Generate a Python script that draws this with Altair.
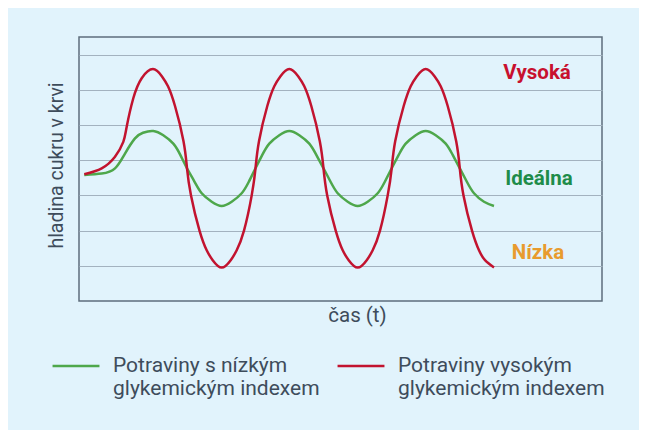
import altair as alt
import pandas as pd

# time (arbitrary units) and blood-sugar level
t_high = [5.3, 22.7, 36, 44.3, 47.7, 54.3, 62.7, 74,
          83, 89, 96, 104.5, 108, 112, 120.5, 127.7, 133.7, 142.7,
          151.7, 157.7, 165, 172.7, 176.5, 180, 188.3, 195.3, 201.3, 210.3,
          219.3, 225.3, 232.3, 240.8, 244.5, 248.2, 256.7, 263.7, 269.7, 278.7,
          287.7, 293.7, 301, 308.7, 312.7, 316.2, 324.7, 331.7, 337.7, 346.7,
          355.7, 361.7, 368.7, 377.2, 380.8, 384.5, 393, 400, 406, 415]
v_high = [3.60, 3.77, 4.10, 4.52, 4.95, 5.76, 6.33, 6.59,
          6.38, 6.10, 5.54, 4.54, 3.77, 3.00, 2.00, 1.44, 1.16, 0.95,
          1.16, 1.44, 2.00, 3.00, 3.77, 4.54, 5.54, 6.10, 6.38, 6.59,
          6.38, 6.10, 5.54, 4.54, 3.77, 3.00, 2.00, 1.44, 1.16, 0.95,
          1.16, 1.44, 2.00, 3.00, 3.77, 4.54, 5.54, 6.10, 6.38, 6.59,
          6.38, 6.10, 5.54, 4.54, 3.77, 3.00, 2.00, 1.44, 1.16, 0.95]

t_low = [5.3, 22.7, 36, 46, 56, 64, 74.3,
         84.3, 94.3, 101.3, 108, 115.7, 122.7, 132.7, 142.7,
         152.7, 162.7, 169.7, 176.5, 183.3, 190.3, 200.3, 210.3,
         220.3, 230.3, 237.3, 244.5, 251.7, 258.7, 268.7, 278.7,
         288.7, 298.7, 305.7, 312.7, 319.7, 326.7, 336.7, 346.7,
         356.7, 366.7, 373.7, 380.8, 388, 395, 405, 415]
v_low = [3.58, 3.62, 3.77, 4.19, 4.62, 4.78, 4.83,
         4.71, 4.47, 4.15, 3.77, 3.38, 3.06, 2.82, 2.70,
         2.82, 3.06, 3.38, 3.77, 4.15, 4.47, 4.71, 4.83,
         4.71, 4.47, 4.15, 3.77, 3.38, 3.06, 2.82, 2.70,
         2.82, 3.06, 3.38, 3.77, 4.15, 4.47, 4.71, 4.83,
         4.71, 4.47, 4.15, 3.77, 3.38, 3.06, 2.82, 2.70]

series_names = ["Potraviny s nízkým|glykemickým indexem",
                "Potraviny vysokým|glykemickým indexem"]
series_colors = ["#4EA74B", "#C2132F"]

zone_labels = ["Vysoká", "Ideálna", "Nízka"]
zone_t = [458, 460, 459]
zone_v = [6.47, 3.46, 1.36]
zone_colors = ["#C8102E", "#1E8C4A", "#E89B2E"]

grid_values = [1, 2, 3, 4, 5, 6, 7]

df = pd.concat([
    pd.DataFrame({"t": t_low, "v": v_low, "s": series_names[0], "o": range(len(t_low))}),
    pd.DataFrame({"t": t_high, "v": v_high, "s": series_names[1], "o": range(len(t_high))}),
])
zdf = pd.DataFrame({"label": zone_labels, "t": zone_t, "v": zone_v, "c": zone_colors})

FONT = "Roboto"
TXT = "#3E4C5B"

xscale = alt.Scale(domain=[0, 523], nice=False, zero=False)
yscale = alt.Scale(domain=[0, 7.5], nice=False, zero=False)

lines = alt.Chart(df).mark_line(interpolate="natural", strokeWidth=2.5).encode(
    x=alt.X("t:Q", scale=xscale,
            axis=alt.Axis(title="čas (t)", labels=False, ticks=False, domain=False, grid=False,
                          titleFontSize=20.5, titleFont=FONT, titleFontWeight="normal",
                          titleColor=TXT, titlePadding=4, titleX=278)),
    y=alt.Y("v:Q", scale=yscale,
            axis=alt.Axis(title="hladina cukru v krvi", values=grid_values, labels=False, ticks=False,
                          domain=False, grid=True, gridColor="#A3B2BF", gridWidth=1,
                          titleFontSize=19.5, titleFont=FONT, titleFontWeight="normal",
                          titleColor=TXT, titlePadding=13, titleY=128)),
    color=alt.Color("s:N", scale=alt.Scale(domain=series_names, range=series_colors),
                    legend=alt.Legend(title=None, orient="none", legendX=-28, legendY=304,
                                      direction="horizontal", columns=2, symbolType="stroke",
                                      symbolSize=2200, symbolStrokeWidth=2.5, labelFont=FONT,
                                      labelFontSize=21, labelColor=TXT, labelLimit=400,
                                      labelOffset=12, columnPadding=12,
                                      labelExpr="split(datum.label, '|')")),
    order="o:Q",
)

labels = alt.Chart(zdf).mark_text(font=FONT, fontSize=20.5, fontWeight="bold").encode(
    x=alt.X("t:Q", scale=xscale),
    y=alt.Y("v:Q", scale=yscale),
    text="label:N",
    color=alt.Color("c:N", scale=None),
)

chart = alt.layer(lines, labels).properties(
    width=523, height=264,
    autosize=alt.AutoSizeParams(type="none"),
    padding={"left": 71, "top": 29, "right": 37, "bottom": 129},
    background="#E1F3FC",
).configure_view(
    stroke="#5E6E7C", strokeWidth=1.5, fill="#E1F3FC"
)

chart.save("out.html", embed_options={"renderer": "svg", "actions": False})
